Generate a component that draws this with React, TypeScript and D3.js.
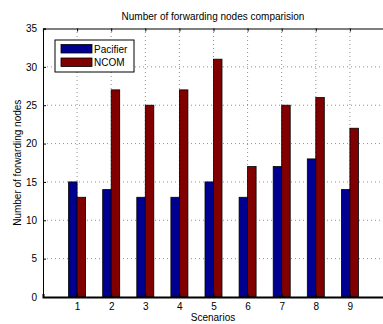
import { useRef, useEffect } from 'react';
import { select, scaleLinear, axisLeft, axisBottom, axisTop } from 'd3';

const scenarios = [1, 2, 3, 4, 5, 6, 7, 8, 9];
const pacifier = [15, 14, 13, 13, 15, 13, 17, 18, 14];
const ncom = [13, 27, 25, 27, 31, 17, 25, 26, 22];
const seriesNames = ['Pacifier', 'NCOM'];
const seriesColors = ['#000090', '#800000'];
const yTicks = [0, 5, 10, 15, 20, 25, 30, 35];

const W = 383;
const H = 324;

export default function App() {
  const ref = useRef<SVGSVGElement | null>(null);

  useEffect(() => {
    if (!ref.current) return;
    const svg = select(ref.current);
    svg.selectAll('*').remove();

    const font = 'Liberation Sans, Arial, Helvetica, sans-serif';
    const x = scaleLinear().domain([0, 10]).range([43, 384]);
    const y = scaleLinear().domain([0, 35]).range([297, 28.5]);
    const barW = 8.5;

    // grid
    const grid = svg.append('g').attr('stroke', '#444').attr('stroke-width', 0.6).attr('stroke-dasharray', '1,3');
    grid
      .selectAll('line.v')
      .data(scenarios)
      .join('line')
      .attr('x1', d => x(d))
      .attr('x2', d => x(d))
      .attr('y1', y(0))
      .attr('y2', y(35));
    grid
      .selectAll('line.h')
      .data(yTicks.filter(t => t > 0 && t < 35))
      .join('line')
      .attr('x1', x(0))
      .attr('x2', x(10))
      .attr('y1', d => y(d))
      .attr('y2', d => y(d));

    // bars
    const series = [pacifier, ncom];
    series.forEach((vals, si) => {
      svg
        .append('g')
        .selectAll('rect')
        .data(vals)
        .join('rect')
        .attr('x', (_, i) => x(scenarios[i]) + (si === 0 ? -barW : 0))
        .attr('y', d => y(d))
        .attr('width', barW)
        .attr('height', d => y(0) - y(d))
        .attr('fill', seriesColors[si])
        .attr('stroke', '#000')
        .attr('stroke-width', 0.8);
    });

    // axes
    const bottom = svg
      .append('g')
      .attr('transform', `translate(0,${y(0)})`)
      .call(axisBottom(x).tickValues(scenarios).tickSize(-3).tickPadding(6).tickFormat(d => String(d)));
    bottom.select('.domain').attr('stroke-width', 2);
    const left = svg
      .append('g')
      .attr('transform', `translate(${x(0)},0)`)
      .call(axisLeft(y).tickValues(yTicks).tickSize(-3).tickPadding(6));
    const top = svg
      .append('g')
      .attr('transform', `translate(0,${y(35)})`)
      .call(axisTop(x).tickValues(scenarios).tickSize(-3).tickFormat(() => ''));
    [bottom, left, top].forEach(g => {
      g.selectAll('text').attr('font-family', font).attr('font-size', 10).attr('fill', '#000');
      g.select('.domain').attr('stroke', '#000');
    });
    top.select('.domain').attr('stroke-width', 1.2);

    // titles
    svg
      .append('text')
      .attr('x', 213)
      .attr('y', 20)
      .attr('text-anchor', 'middle')
      .attr('font-family', font)
      .attr('font-size', 10)
      .text('Number of forwarding nodes comparision');
    svg
      .append('text')
      .attr('x', 213)
      .attr('y', 321)
      .attr('text-anchor', 'middle')
      .attr('font-family', font)
      .attr('font-size', 10)
      .text('Scenarios');
    svg
      .append('text')
      .attr('transform', `translate(21,${(y(0) + y(35)) / 2}) rotate(-90)`)
      .attr('text-anchor', 'middle')
      .attr('font-family', font)
      .attr('font-size', 10)
      .text('Number of forwarding nodes');

    // legend
    const lg = svg.append('g').attr('transform', 'translate(55,40)');
    lg.append('rect').attr('width', 79).attr('height', 32).attr('fill', '#fff').attr('stroke', '#000').attr('stroke-width', 1);
    seriesNames.forEach((name, i) => {
      lg.append('rect')
        .attr('x', 6)
        .attr('y', 4.5 + i * 13.5)
        .attr('width', 31)
        .attr('height', 8.5)
        .attr('fill', seriesColors[i])
        .attr('stroke', '#000')
        .attr('stroke-width', 0.8);
      lg.append('text')
        .attr('x', 39)
        .attr('y', 12.5 + i * 13.5)
        .attr('font-family', font)
        .attr('font-size', 10)
        .text(name);
    });
  }, []);

  return (
    <svg ref={ref} width={W} height={H} style={{ position: 'absolute', left: 0, top: 0, background: '#fff' }} />
  );
}
